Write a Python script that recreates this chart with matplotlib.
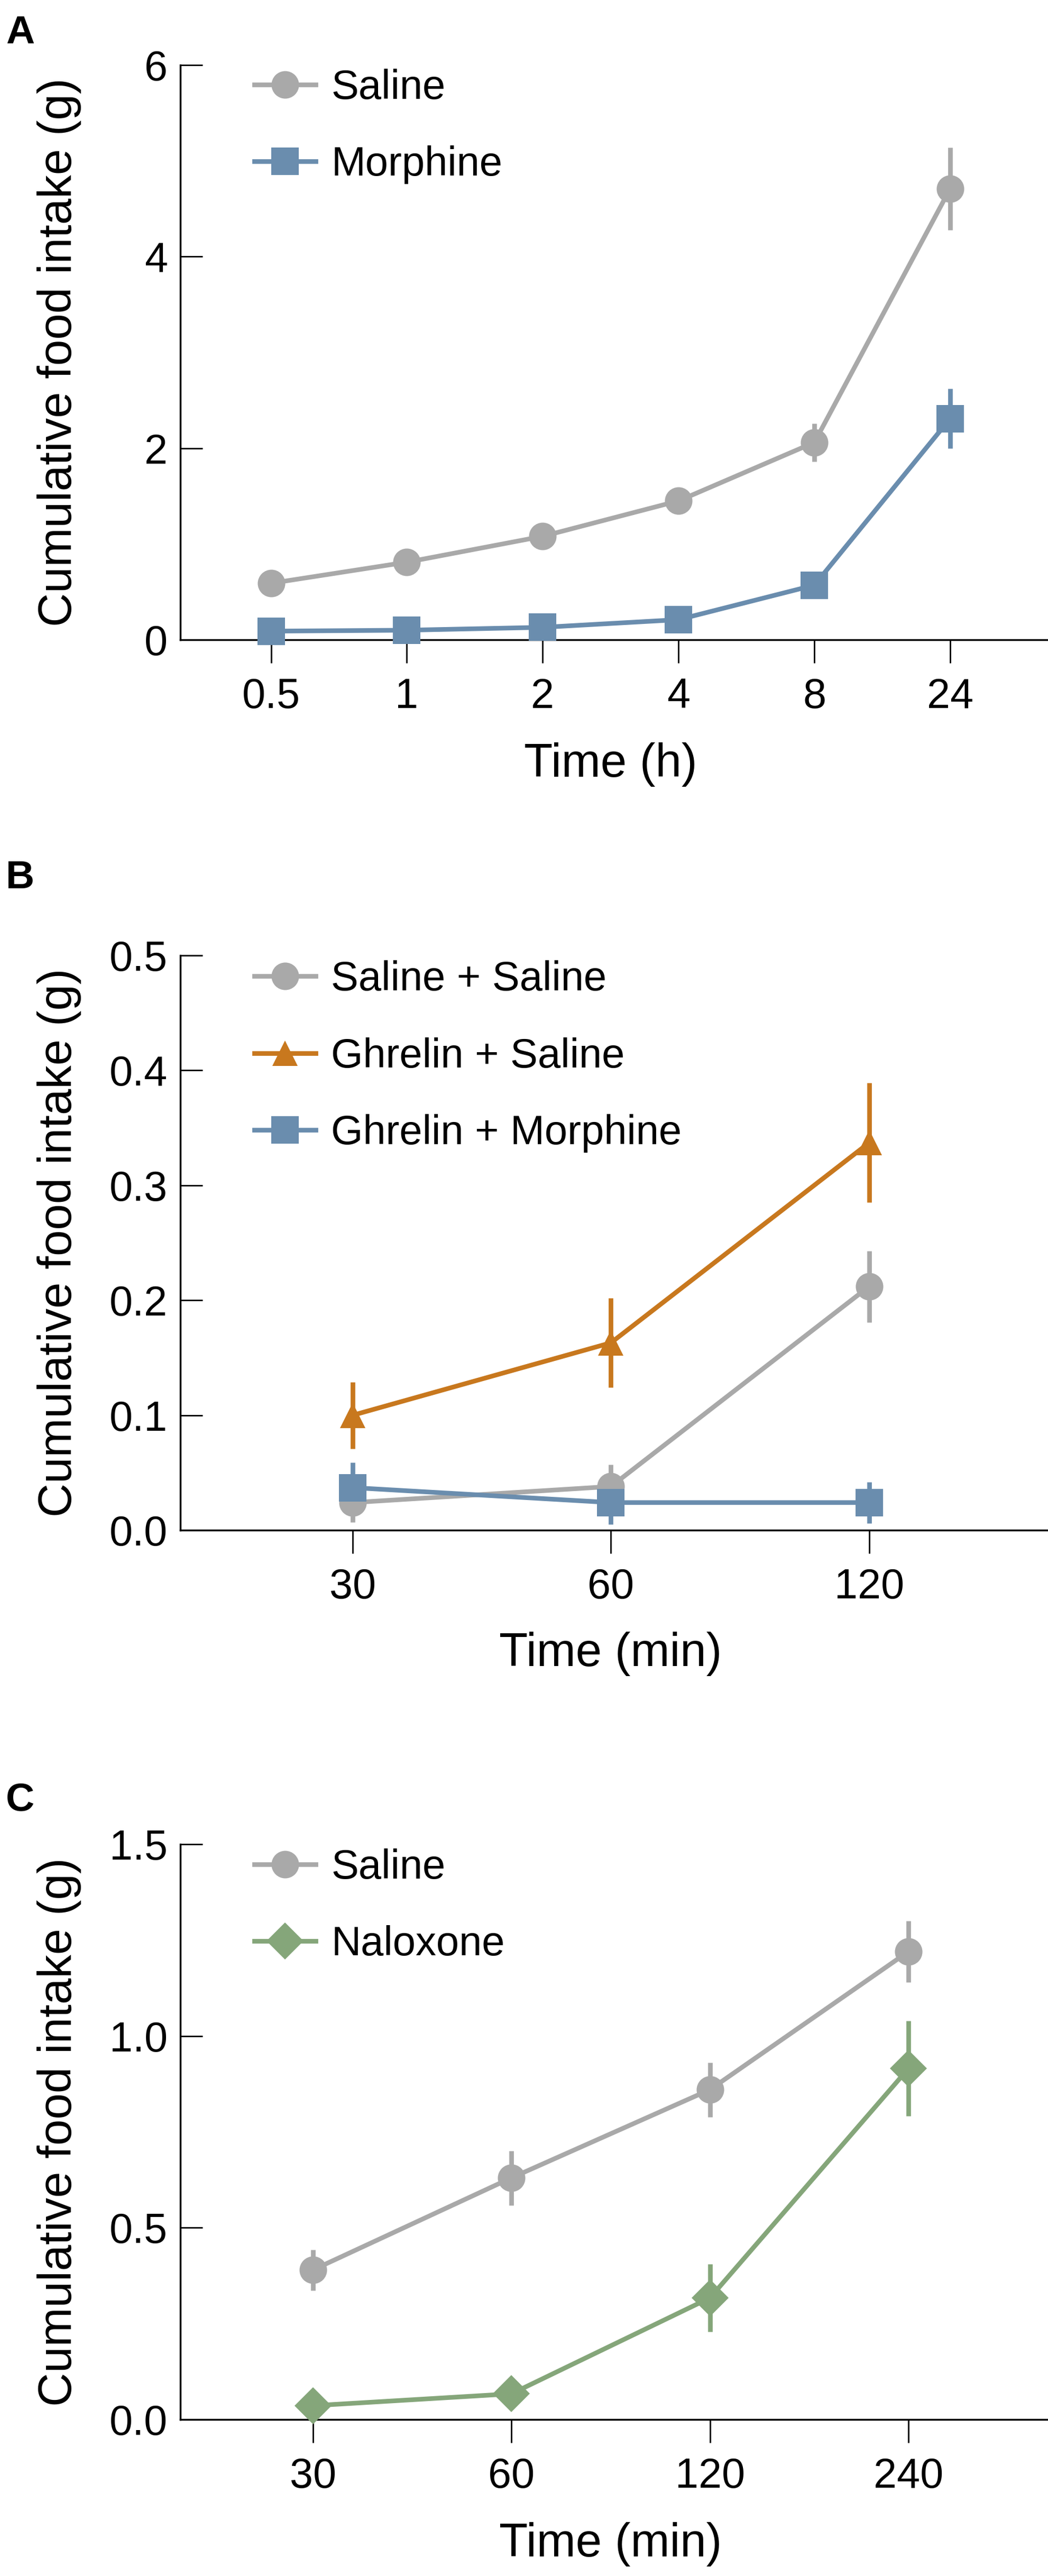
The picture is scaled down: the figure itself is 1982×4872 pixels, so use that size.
import matplotlib
matplotlib.use('Agg')
import matplotlib.pyplot as plt

plt.rcParams['font.family'] = ['Liberation Sans', 'DejaVu Sans']

# ---------------- data ----------------
# Panel A
a_times = ['0.5', '1', '2', '4', '8', '24']
a_saline = [0.59, 0.81, 1.08, 1.45, 2.06, 4.71]
a_saline_err = [0.04, 0.04, 0.05, 0.05, 0.20, 0.43]
a_morphine = [0.09, 0.10, 0.13, 0.21, 0.57, 2.31]
a_morphine_err = [0.02, 0.02, 0.03, 0.04, 0.07, 0.31]

# Panel B
b_times = ['30', '60', '120']
b_sal_sal = [0.024, 0.038, 0.212]
b_sal_sal_err = [0.017, 0.019, 0.031]
b_ghr_sal = [0.100, 0.163, 0.337]
b_ghr_sal_err = [0.029, 0.039, 0.052]
b_ghr_mor = [0.037, 0.024, 0.024]
b_ghr_mor_err = [0.022, 0.019, 0.018]

# Panel C
c_times = ['30', '60', '120', '240']
c_saline = [0.39, 0.63, 0.86, 1.22]
c_saline_err = [0.053, 0.071, 0.071, 0.080]
c_naloxone = [0.036, 0.067, 0.317, 0.915]
c_naloxone_err = [0.010, 0.012, 0.088, 0.124]

GRAY = '#A9A9A9'
BLUE = '#6A8DAE'
ORANGE = '#C8781E'
GREEN = '#85A67A'

W, H = 1983, 4872
fig = plt.figure(figsize=(W / 100, H / 100), dpi=100)

FS_TICK = 57
FS_LABEL = 64
FS_LEG = 56
LW = 6.3
MS = 37.5


def axes_px(top, bottom):
    left = 341 / W
    return fig.add_axes([left, 1 - bottom / H, 1 - left, (bottom - top) / H])


def series(ax, x, y, err, color, marker, label, ms=MS):
    ax.errorbar(x, y, yerr=err, fmt='none', ecolor=color, elinewidth=LW,
                capsize=0, zorder=3, clip_on=False)
    ax.plot(x, y, color=color, lw=LW, marker=marker, ms=ms, mew=0,
            label=label, zorder=4, clip_on=False)


def style(ax, labels, xright, ylim, yticks, yticklabels, xlabel, xlab_off):
    ax.set_xticks(range(len(labels)))
    ax.set_xticklabels(labels)
    ax.set_xlim(-0.668, xright)
    ax.set_ylim(*ylim)
    ax.set_yticks(yticks)
    ax.set_yticklabels(yticklabels)
    for s in ['top', 'right']:
        ax.spines[s].set_visible(False)
    for s in ['left', 'bottom']:
        ax.spines[s].set_linewidth(2.5)
    ax.tick_params(axis='y', direction='in', length=30, width=2, pad=17,
                   labelsize=FS_TICK)
    ax.tick_params(axis='x', direction='out', length=32, width=2, pad=19,
                   labelsize=FS_TICK)
    ax.set_ylabel('Cumulative food intake (g)', fontsize=FS_LABEL,
                  va='center', ha='center')
    ax.yaxis.set_label_coords(-229 / (W - 341), 0.5)
    ax.set_xlabel(xlabel, fontsize=FS_LABEL, va='center', ha='center')
    bbox_h = ax.get_position().height * H
    ax.xaxis.set_label_coords((1155 - 341) / (W - 341), -xlab_off / bbox_h)


def legend(ax, ycenter):
    ax.legend(loc='center left', bbox_to_anchor=(140 / (W - 341), ycenter),
              frameon=False, fontsize=FS_LEG, handlelength=1.49,
              handletextpad=0.38, labelspacing=0.93, borderpad=0,
              borderaxespad=0, numpoints=1)


# ---------------- Panel A ----------------
axA = axes_px(123, 1210)
xa = list(range(len(a_times)))
series(axA, xa, a_saline, a_saline_err, GRAY, 'o', 'Saline')
series(axA, xa, a_morphine, a_morphine_err, BLUE, 's', 'Morphine')
style(axA, a_times, 5.724, (0, 6), [0, 2, 4, 6], ['0', '2', '4', '6'],
      'Time (h)', 236)
legend(axA, 0.893)

# ---------------- Panel B ----------------
axB = axes_px(1807, 2894)
xb = list(range(len(b_times)))
series(axB, xb, b_sal_sal, b_sal_sal_err, GRAY, 'o', 'Saline + Saline')
series(axB, xb, b_ghr_sal, b_ghr_sal_err, ORANGE, '^', 'Ghrelin + Saline', ms=35)
series(axB, xb, b_ghr_mor, b_ghr_mor_err, BLUE, 's', 'Ghrelin + Morphine')
style(axB, b_times, 2.695, (0, 0.5), [0, 0.1, 0.2, 0.3, 0.4, 0.5],
      ['0.0', '0.1', '0.2', '0.3', '0.4', '0.5'], 'Time (min)', 234)
legend(axB, 0.824)

# ---------------- Panel C ----------------
axC = axes_px(3488, 4576)
xc = list(range(len(c_times)))
series(axC, xc, c_saline, c_saline_err, GRAY, 'o', 'Saline')
series(axC, xc, c_naloxone, c_naloxone_err, GREEN, 'D', 'Naloxone', ms=36)
style(axC, c_times, 3.706, (0, 1.5), [0, 0.5, 1.0, 1.5],
      ['0.0', '0.5', '1.0', '1.5'], 'Time (min)', 236)
legend(axC, 0.8925)

# panel letters
for letter, yc in [('A', 62), ('B', 1660), ('C', 3405)]:
    fig.text(11 / W, 1 - yc / H, letter, fontsize=54, fontweight='bold',
             ha='left', va='center')

fig.savefig('out.png', dpi=100)
